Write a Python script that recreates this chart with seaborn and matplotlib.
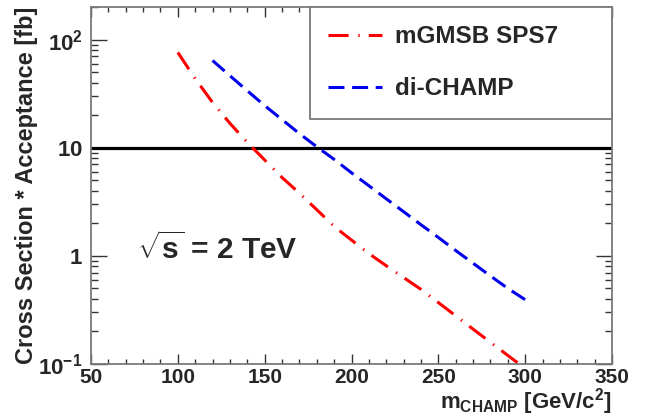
import matplotlib
matplotlib.use("Agg")
import matplotlib.pyplot as plt
import numpy as np
import pandas as pd
import seaborn as sns
from matplotlib.ticker import FixedLocator, MultipleLocator, LogLocator, NullFormatter, FixedFormatter

# mGMSB SPS7 model: cross section x acceptance [fb] vs CHAMP mass [GeV/c^2]
mass_gmsb = [100, 110, 120, 130, 140, 150, 160, 170, 180, 190, 200,
             210, 220, 230, 240, 250, 260, 270, 280, 290, 300]
xsec_gmsb = [76, 43.5, 26.2, 16.8, 11.2, 7.7, 5.3, 3.8, 2.67, 1.87, 1.40,
             1.05, 0.81, 0.63, 0.49, 0.37, 0.279, 0.21, 0.159, 0.12, 0.091]

# generic di-CHAMP production
mass_champ = [120, 130, 140, 150, 160, 170, 180, 190, 200, 210,
              220, 230, 240, 250, 260, 270, 280, 290, 302]
xsec_champ = [64, 46.3, 33.6, 24.5, 18.2, 13.5, 10.2, 7.8, 5.86, 4.45,
              3.37, 2.56, 1.94, 1.48, 1.12, 0.855, 0.652, 0.50, 0.375]

threshold = 10  # fb
series_labels = ["mGMSB SPS7", "di-CHAMP"]
x_ticks = [50, 100, 150, 200, 250, 300, 350]
y_ticks = [0.1, 1, 10, 100]
y_tick_labels = [r"$\mathbf{10^{-1}}$", r"$\mathbf{1}$", r"$\mathbf{10}$", r"$\mathbf{10^{2}}$"]

sns.set_style("ticks")
plt.rcParams["font.family"] = ["Liberation Sans", "DejaVu Sans"]
plt.rcParams["mathtext.fontset"] = "custom"
plt.rcParams["mathtext.rm"] = "Liberation Sans"
plt.rcParams["mathtext.it"] = "Liberation Sans:italic"
plt.rcParams["mathtext.bf"] = "Liberation Sans:bold"
plt.rcParams["lines.scale_dashes"] = False

df_gmsb = pd.DataFrame({"mass": mass_gmsb, "xsec": xsec_gmsb})
df_champ = pd.DataFrame({"mass": mass_champ, "xsec": xsec_champ})

fig = plt.figure(figsize=(6.52, 4.19), dpi=100)
ax = fig.add_axes([91 / 652, 55 / 419, 521 / 652, 357 / 419])

sns.lineplot(data=df_gmsb, x="mass", y="xsec", ax=ax, color="#ff0000",
             linewidth=2.2, label=series_labels[0])
sns.lineplot(data=df_champ, x="mass", y="xsec", ax=ax, color="#0000ee",
             linewidth=2.2, label=series_labels[1])
l_red, l_blue = ax.get_lines()[:2]
l_red.set_dashes((14.5, 7.0, 1.0, 6.5))
l_blue.set_dashes((11.5, 5.5))
ax.axhline(threshold, color="black", linewidth=2.3, zorder=1)

ax.set_yscale("log")
ax.set_xlim(50, 350)
ax.set_ylim(0.1, 200)

grey = "#7a7a7a"
for s in ax.spines.values():
    s.set_visible(True)
    s.set_color(grey)
    s.set_linewidth(1.3)

ax.xaxis.set_major_locator(FixedLocator(x_ticks))
ax.xaxis.set_minor_locator(MultipleLocator(10))
ax.yaxis.set_major_locator(FixedLocator(y_ticks))
ax.yaxis.set_major_formatter(FixedFormatter(y_tick_labels))
ax.yaxis.set_minor_locator(LogLocator(base=10, subs=np.arange(2, 10)))
ax.yaxis.set_minor_formatter(NullFormatter())

ax.tick_params(axis="both", which="both", direction="in", top=True, right=True,
               color="#333333", width=1.0)
ax.tick_params(axis="x", which="major", length=7.5, labelsize=15, pad=3)
ax.tick_params(axis="x", which="minor", length=3.6)
ax.tick_params(axis="y", which="major", length=11.5, labelsize=16, pad=6)
ax.tick_params(axis="y", which="minor", length=5)
for lab in ax.get_xticklabels():
    lab.set_fontweight("bold")

ax.set_ylabel("Cross Section * Acceptance [fb]", fontsize=17, fontweight="bold")
ax.yaxis.set_label_coords(-0.102, 0.5)
ax.set_xlabel(r"$\mathbf{m_{CHAMP}}$ [GeV/c$\mathbf{^{2}}$]", fontsize=16,
              fontweight="bold", ha="right", va="bottom")
ax.xaxis.set_label_coords(1.0, -0.148)

ax.text(0.088, 0.325, r"$\sqrt{\mathbf{s}}$ = 2 TeV", transform=ax.transAxes,
        fontsize=21.5, fontweight="bold", va="center", ha="left")

leg = ax.legend(loc="upper left", bbox_to_anchor=(0.42, 0.0, 0.58, 1.0), mode="expand",
                borderaxespad=0, prop={"weight": "bold", "size": 17.5},
                frameon=True, fancybox=False, handlelength=2.2, handletextpad=0.55,
                borderpad=0.75, labelspacing=1.2)
leg.get_frame().set_edgecolor(grey)
leg.get_frame().set_linewidth(1.3)
leg.get_frame().set_alpha(1)

fig.savefig("out.png", dpi=100)
